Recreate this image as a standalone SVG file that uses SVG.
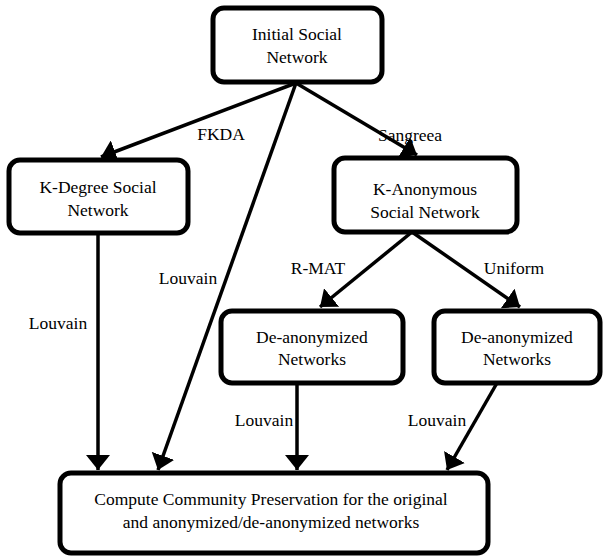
<svg xmlns="http://www.w3.org/2000/svg" width="614" height="557" viewBox="0 0 614 557" font-family="Liberation Serif, Times New Roman, serif" font-size="17.5">
<style>
.box{fill:#fff;stroke:#000;stroke-width:5}
.c{stroke:#000;stroke-width:3.5;fill:none}
</style>
<defs>
<marker id="ah" markerUnits="userSpaceOnUse" markerWidth="16" markerHeight="24" refX="15" refY="12" orient="auto" viewBox="0 0 16 24">
<path d="M0,0 L15,12 L0,24 z" fill="#000"/>
</marker>
</defs>
<g id="connectors">
<line class="c" x1="296" y1="83" x2="101" y2="157" marker-end="url(#ah)"/>
<line class="c" x1="296" y1="83" x2="417" y2="155" marker-end="url(#ah)"/>
<line class="c" x1="296" y1="83" x2="158" y2="470" marker-end="url(#ah)"/>
<line class="c" x1="98" y1="233" x2="98" y2="470" marker-end="url(#ah)"/>
<line class="c" x1="412" y1="232" x2="320" y2="307" marker-end="url(#ah)"/>
<line class="c" x1="412" y1="232" x2="520" y2="307" marker-end="url(#ah)"/>
<line class="c" x1="297" y1="383" x2="297" y2="470" marker-end="url(#ah)"/>
<line class="c" x1="497" y1="383" x2="447" y2="470" marker-end="url(#ah)"/>
<g text-anchor="middle">
<text x="221" y="140">FKDA</text>
<text x="410" y="141">Sangreea</text>
<text x="58" y="329">Louvain</text>
<text x="188" y="284">Louvain</text>
<text x="318" y="274">R-MAT</text>
<text x="514" y="274">Uniform</text>
<text x="264" y="426">Louvain</text>
<text x="437" y="426">Louvain</text>
</g>
</g>
<g id="initial" text-anchor="middle">
<rect class="box" x="213" y="8" width="169" height="74" rx="11"/>
<text x="297" y="40">Initial Social</text>
<text x="297" y="63">Network</text>
</g>
<g id="kdegree" text-anchor="middle">
<rect class="box" x="9" y="160" width="179" height="73" rx="11"/>
<text x="98" y="193">K-Degree Social</text>
<text x="98" y="216">Network</text>
</g>
<g id="kanon" text-anchor="middle">
<rect class="box" x="334" y="158" width="183" height="74" rx="11"/>
<text x="425" y="195">K-Anonymous</text>
<text x="425" y="218">Social Network</text>
</g>
<g id="deanon1" text-anchor="middle">
<rect class="box" x="221" y="311" width="182" height="72" rx="11"/>
<text x="312" y="343">De-anonymized</text>
<text x="312" y="365">Networks</text>
</g>
<g id="deanon2" text-anchor="middle">
<rect class="box" x="434" y="311" width="166" height="72" rx="11"/>
<text x="517" y="343">De-anonymized</text>
<text x="517" y="365">Networks</text>
</g>
<g id="compute" text-anchor="middle">
<rect class="box" x="60" y="473" width="428" height="80" rx="11"/>
<text x="271" y="505">Compute Community Preservation for the original</text>
<text x="271" y="528">and anonymized/de-anonymized networks</text>
</g>
</svg>
